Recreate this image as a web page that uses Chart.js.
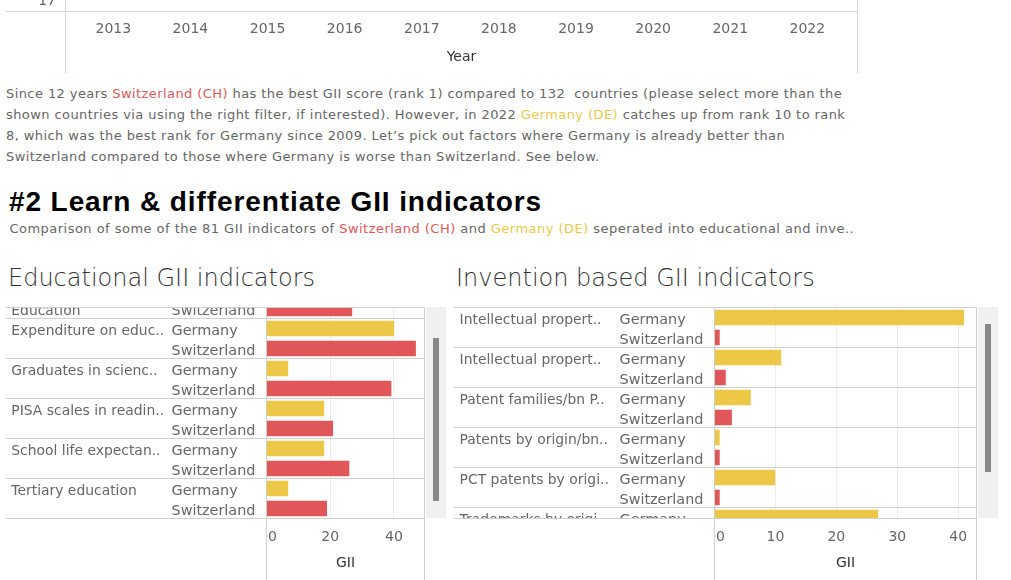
<!DOCTYPE html>
<html>
<head>
<meta charset="utf-8">
<script src="https://cdn.jsdelivr.net/npm/chart.js@4.4.1/dist/chart.umd.min.js"></script>
<style>
  body { margin: 0; width: 1011px; height: 580px; overflow: hidden; background: #fff; position: relative; font-family: "DejaVu Sans", sans-serif; }
  .abs { position: absolute; white-space: pre; }
  .para { left: 6px; top: 82.5px; font-size: 13px; line-height: 21px; letter-spacing: 0.42px; color: #666; }
  .sub { left: 9.5px; top: 218px; font-size: 13px; line-height: 21px; letter-spacing: 0.47px; color: #666; }
  .ch { color: #e15759; }
  .de { color: #edc948; }
  .head { left: 9px; top: 185px; font-family: "Liberation Sans", Arial, sans-serif; font-weight: bold; font-size: 28px; line-height: 34px; letter-spacing: 0.9px; color: #000; }
  .ctitle { top: 263.4px; font-size: 24px; line-height: 30px; font-weight: 200; color: #333; }
  canvas { position: absolute; }
  .track { position: absolute; background: #f0f0f0; }
  .thumb { position: absolute; background: #888; }
</style>
</head>
<body>
<canvas id="yearChart" width="860" height="200" style="left:0;top:-127px"></canvas>

<div class="abs para"><div>Since 12 years <span class="ch">Switzerland (CH)</span> has the best GII score (rank 1) compared to 132  countries (please select more than the</div><div>shown countries via using the right filter, if interested). However, in 2022 <span class="de">Germany (DE)</span> catches up from rank 10 to rank</div><div>8, which was the best rank for Germany since 2009. Let’s pick out factors where Germany is already better than</div><div>Switzerland compared to those where Germany is worse than Switzerland. See below.</div></div>

<div class="abs head">#2 Learn &amp; differentiate GII indicators</div>
<div class="abs sub">Comparison of some of the 81 GII indicators of <span class="ch">Switzerland (CH)</span> and <span class="de">Germany (DE)</span> seperated into educational and inve..</div>

<div class="abs ctitle" style="left:8px">Educational GII indicators</div>
<div class="abs ctitle" style="left:456px">Invention based GII indicators</div>

<canvas id="eduChart" width="450" height="280" style="left:0;top:300px"></canvas>
<canvas id="invChart" width="561" height="280" style="left:450px;top:300px"></canvas>

<div class="track" style="left:426px;top:307px;width:20px;height:211px"></div>
<div class="thumb" style="left:433px;top:338px;width:6px;height:163px"></div>
<div class="track" style="left:978px;top:307px;width:20px;height:211px"></div>
<div class="thumb" style="left:985px;top:324px;width:6px;height:148px"></div>

<script>
const years = [2013, 2014, 2015, 2016, 2017, 2018, 2019, 2020, 2021, 2022];
const rankTicks = [17];

const seriesNames = ["Germany", "Switzerland"];
const seriesColors = ["#ecc846", "#e15759"];

const eduCategories = ["Education", "Expenditure on educ..", "Graduates in scienc..", "PISA scales in readin..", "School life expectan..", "Tertiary education"];
const eduGermany = [null, 40.0, 6.7, 18.0, 18.0, 6.7];
const eduSwitzerland = [26.8, 46.8, 39.1, 20.8, 25.9, 18.9];
const eduTicks = [0, 20, 40];

const invCategories = ["Intellectual propert..", "Intellectual propert..", "Patent families/bn P..", "Patents by origin/bn..", "PCT patents by origi..", "Trademarks by origi.."];
const invGermany = [40.9, 10.9, 5.9, 0.8, 9.9, 26.8];
const invSwitzerland = [0.8, 1.8, 2.8, 0.8, 0.8, null];
const invTicks = [0, 10, 20, 30, 40];

const FONT = '"DejaVu Sans", sans-serif';
const LINE = "#cfcfcf";

// top chart: only the bottom of the rank chart is in view
new Chart(document.getElementById("yearChart"), {
  type: "line",
  data: { datasets: [] },
  options: {
    responsive: false,
    animation: false,
    events: [],
    layout: { padding: { left: 0, right: 2.5, top: 0, bottom: 0 }, autoPadding: false },
    plugins: { legend: { display: false }, tooltip: { enabled: false } },
    scales: {
      x: {
        type: "linear", min: 2012.38, max: 2022.65,
        afterBuildTicks: (s) => { s.ticks = years.map((v) => ({ value: v })); },
        afterFit: (s) => { s.height = 61.5; s.paddingLeft = 0; s.paddingRight = 0; },
        grid: { display: false, drawTicks: false },
        border: { display: false },
        ticks: { color: "#666", font: { family: FONT, size: 14 }, padding: 9, maxRotation: 0, autoSkip: false, callback: (v) => String(v) },
        title: { display: true, text: "Year", color: "#333", font: { family: FONT, size: 14 }, padding: { top: 0, bottom: 7 } },
      },
      y: {
        type: "linear", reverse: true, min: 1, max: 18.2,
        afterBuildTicks: (s) => { s.ticks = rankTicks.map((v) => ({ value: v })); },
        afterFit: (s) => { s.width = 65.5; s.paddingTop = 0; s.paddingBottom = 0; },
        grid: { display: false, drawTicks: false },
        border: { display: false },
        ticks: { color: "#666", font: { family: FONT, size: 14 }, padding: 9.5 },
      },
    },
  },
  plugins: [{
    id: "frame",
    afterDraw(chart) {
      const { ctx, chartArea: a } = chart;
      ctx.save();
      ctx.strokeStyle = "#d4d4d4";
      ctx.lineWidth = 1;
      ctx.beginPath();
      ctx.moveTo(6, a.bottom); ctx.lineTo(a.right, a.bottom);
      ctx.moveTo(a.left, 0); ctx.lineTo(a.left, chart.height);
      ctx.moveTo(a.right, 0); ctx.lineTo(a.right, chart.height);
      ctx.stroke();
      ctx.restore();
    },
  }],
});

function barChart(id, cats, de, ch, ticks, o) {
  // one row per country that has a value, grouped by indicator
  const rows = [];
  cats.forEach((c, i) => {
    [de[i], ch[i]].forEach((v, s) => {
      if (v !== null) rows.push({ cat: i, s: s, v: v });
    });
  });

  const datasets = seriesNames.map((name, s) => ({
    label: name,
    data: rows.map((r, i) => ({ r, i })).filter((d) => d.r.s === s).map((d) => ({ x: d.r.v, y: d.i })),
    backgroundColor: seriesColors[s],
    barThickness: 15,
    grouped: false,
    clip: 0,
  }));

  const labels = {
    id: "rowLabels",
    afterDraw(chart) {
      const { ctx, chartArea: a, scales } = chart;
      const y = scales.y, x = scales.x;
      const hline = (x1, yy, x2) => { ctx.moveTo(x1, yy); ctx.lineTo(x2, yy); };

      ctx.save();
      ctx.beginPath();
      ctx.rect(0, a.top, a.right, a.bottom - a.top);
      ctx.clip();
      ctx.fillStyle = "#666";
      ctx.textBaseline = "alphabetic";
      ctx.textAlign = "left";
      ctx.strokeStyle = LINE;
      ctx.lineWidth = 1;
      ctx.beginPath();
      rows.forEach((r, i) => {
        const yc = y.getPixelForValue(i);
        ctx.font = "14.4px " + FONT;
        ctx.fillText(seriesNames[r.s], o.seriesX, yc + 6.5);
        if (i === 0 || rows[i - 1].cat !== r.cat) {
          ctx.font = "13.9px " + FONT;
          ctx.fillText(cats[r.cat], o.catX, yc + 6.5);
          hline(o.panelLeft, y.getPixelForValue(i - 0.5), a.right);
        }
      });
      ctx.stroke();
      ctx.restore();

      ctx.save();
      ctx.strokeStyle = LINE;
      ctx.lineWidth = 1;
      ctx.beginPath();
      hline(o.panelLeft, a.top, a.right);
      hline(o.panelLeft, a.bottom, a.right);
      ctx.moveTo(a.left, a.top); ctx.lineTo(a.left, chart.height);
      ctx.moveTo(a.right, a.top); ctx.lineTo(a.right, chart.height);
      ctx.stroke();

      ctx.font = "14px " + FONT;
      ctx.fillStyle = "#666";
      ticks.forEach((v, k) => {
        const px = x.getPixelForValue(v);
        if (k === 0) { ctx.textAlign = "left"; ctx.fillText(String(v), px + 1.5, 240.5); }
        else { ctx.textAlign = "center"; ctx.fillText(String(v), px, 240.5); }
      });
      ctx.restore();
    },
  };

  return new Chart(document.getElementById(id), {
    type: "bar",
    data: { datasets },
    options: {
      indexAxis: "y",
      responsive: false,
      animation: false,
      events: [],
      layout: { padding: { left: o.left, right: o.right, top: 7.5, bottom: 0 }, autoPadding: false },
      plugins: { legend: { display: false }, tooltip: { enabled: false } },
      scales: {
        x: {
          type: "linear", min: 0, max: o.max,
          afterBuildTicks: (s) => { s.ticks = ticks.map((v) => ({ value: v })); },
          afterFit: (s) => { s.height = 61.5; s.paddingLeft = 0; s.paddingRight = 0; },
          grid: { color: (c) => (c.tick && c.tick.value === 0 ? "rgba(0,0,0,0)" : "#ececec"), drawTicks: false },
          border: { display: false },
          ticks: { display: false },
          title: { display: true, text: "GII", color: "#333", font: { family: FONT, size: 14 }, padding: { top: 0, bottom: 8 } },
        },
        y: { type: "linear", reverse: true, offset: false, min: o.yMin, max: o.yMin + 10.55, display: false },
      },
    },
    plugins: [labels],
  });
}

barChart("eduChart", eduCategories, eduGermany, eduSwitzerland, eduTicks,
  { left: 266.5, right: 25.5, max: 49.6, yMin: -0.05, catX: 11.3, seriesX: 171.5, panelLeft: 6 });
barChart("invChart", invCategories, invGermany, invSwitzerland, invTicks,
  { left: 264.5, right: 34.5, max: 43.0, yMin: -0.5, catX: 9.6, seriesX: 169.5, panelLeft: 4 });
</script>
</body>
</html>
